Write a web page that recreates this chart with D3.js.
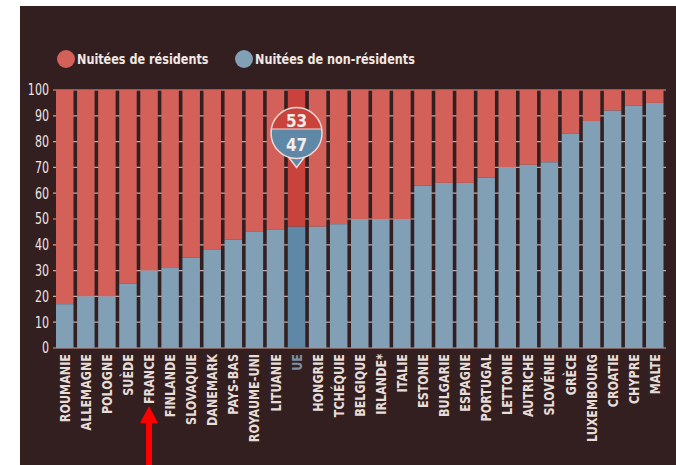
<!DOCTYPE html>
<meta charset="utf-8">
<style>
body { margin: 0; background: #fff; }
svg text { font-family: "DejaVu Sans", sans-serif; }
</style>
<svg width="676" height="465"></svg>
<script src="https://cdn.jsdelivr.net/npm/d3@7"></script>
<script>

// share of non-resident nights (%), residents = 100 - value
var countries = ["ROUMANIE", "ALLEMAGNE", "POLOGNE", "SUÈDE", "FRANCE", "FINLANDE", "SLOVAQUIE",
  "DANEMARK", "PAYS-BAS", "ROYAUME-UNI", "LITUANIE", "UE", "HONGRIE", "TCHÉQUIE", "BELGIQUE",
  "IRLANDE*", "ITALIE", "ESTONIE", "BULGARIE", "ESPAGNE", "PORTUGAL", "LETTONIE", "AUTRICHE",
  "SLOVÉNIE", "GRÈCE", "LUXEMBOURG", "CROATIE", "CHYPRE", "MALTE"];
var nonResidents = [17, 20, 20, 25, 30, 31, 35, 38, 42, 45, 46, 47, 47, 48, 50,
  50, 50, 63, 64, 64, 66, 70, 71, 72, 83, 88, 92, 94, 95];
var yTicks = [0, 10, 20, 30, 40, 50, 60, 70, 80, 90, 100];
var legendLabels = ["Nuitées de résidents", "Nuitées de non-résidents"];
var highlight = "UE";

var svg = d3.select("svg");

var red = "#d3615a", blue = "#819fb5",
    redHi = "#c9423b", blueHi = "#5f88a6",
    outline = "#eed9d6";

svg.append("rect")
    .attr("x", 20).attr("y", 6)
    .attr("width", 656).attr("height", 459)
    .attr("fill", "#331f20");

var x = d3.scaleBand()
    .domain(countries)
    .range([56, 663.5])
    .paddingInner(0.17)
    .paddingOuter(0);

var y = d3.scaleLinear().domain([0, 100]).range([348, 90]);

// grid lines (only show in the gaps between bars)
svg.append("g")
  .selectAll("line")
  .data(yTicks)
  .enter().append("line")
    .attr("x1", 53).attr("x2", 666)
    .attr("y1", function(d) { return y(d); })
    .attr("y2", function(d) { return y(d); })
    .attr("stroke", "#c9a5a3")
    .attr("stroke-width", 1.2);

var data = countries.map(function(c, i) { return { name: c, v: nonResidents[i] }; });

var bars = svg.append("g").selectAll("g")
  .data(data)
  .enter().append("g");

bars.append("rect")
    .attr("x", function(d) { return x(d.name); })
    .attr("width", x.bandwidth())
    .attr("y", y(100))
    .attr("height", function(d) { return y(d.v) - y(100); })
    .attr("fill", function(d) { return d.name == highlight ? redHi : red; });

bars.append("rect")
    .attr("x", function(d) { return x(d.name); })
    .attr("width", x.bandwidth())
    .attr("y", function(d) { return y(d.v); })
    .attr("height", function(d) { return y(0) - y(d.v); })
    .attr("fill", function(d) { return d.name == highlight ? blueHi : blue; });

// y axis labels (squeezed to look like a condensed face)
svg.append("g")
  .selectAll("text")
  .data(yTicks)
  .enter().append("text")
    .attr("transform", function(d) { return "translate(49," + y(d) + ") scale(0.74,1)"; })
    .attr("dy", "0.36em")
    .attr("text-anchor", "end")
    .attr("fill", "#eee4e0")
    .attr("font-size", 15)
    .text(function(d) { return d; });

// country labels
svg.append("g")
  .selectAll("text")
  .data(countries)
  .enter().append("text")
    .attr("transform", function(d) {
      return "translate(" + (x(d) + x.bandwidth() / 2) + ",354) rotate(-90) scale(0.8,1)";
    })
    .attr("dy", "0.36em")
    .attr("text-anchor", "end")
    .attr("font-size", 14)
    .attr("font-weight", "bold")
    .attr("fill", function(d) { return d == highlight ? "#7d8ea3" : "#e6dcd8"; })
    .text(function(d) { return d; });

// legend
var legend = svg.append("g").selectAll("g")
  .data(legendLabels)
  .enter().append("g")
    .attr("transform", function(d, i) { return "translate(" + [66, 244][i] + ",59)"; });

legend.append("circle")
    .attr("r", 9)
    .attr("fill", function(d, i) { return i == 0 ? red : blue; });

legend.append("text")
    .attr("transform", "translate(11,0) scale(0.775,1)")
    .attr("dy", "0.36em")
    .attr("font-size", 14.5)
    .attr("font-weight", "bold")
    .attr("fill", "#f0e8e4")
    .text(function(d) { return d; });

// bubble for the EU value
var ue = data.filter(function(d) { return d.name == highlight; })[0];
var bx = x(highlight) + x.bandwidth() / 2, by = 133, br = 25.5, split = by - 4;
var bubble = svg.append("g");

svg.append("defs").append("clipPath")
    .attr("id", "bubble-clip")
  .append("circle")
    .attr("cx", bx).attr("cy", by).attr("r", br);

bubble.append("path")
    .attr("d", "M" + (bx - 10) + "," + (by + br - 4) + " L" + bx + "," + (by + br + 9) +
      " L" + (bx + 10) + "," + (by + br - 4) + "Z")
    .attr("fill", blueHi)
    .attr("stroke", outline)
    .attr("stroke-width", 1.5);

bubble.append("circle")
    .attr("cx", bx).attr("cy", by).attr("r", br)
    .attr("fill", blueHi);
bubble.append("rect")
    .attr("x", bx - br).attr("y", by - br)
    .attr("width", br * 2).attr("height", split - (by - br))
    .attr("fill", redHi)
    .attr("clip-path", "url(#bubble-clip)");
bubble.append("circle")
    .attr("cx", bx).attr("cy", by).attr("r", br)
    .attr("fill", "none")
    .attr("stroke", outline)
    .attr("stroke-width", 1.5);
bubble.append("line")
    .attr("x1", bx - br + 1).attr("x2", bx + br - 1)
    .attr("y1", split).attr("y2", split)
    .attr("stroke", outline)
    .attr("stroke-width", 1)
    .attr("clip-path", "url(#bubble-clip)");

bubble.append("text")
    .attr("transform", "translate(" + bx + "," + (by - 12) + ") scale(0.85,1)")
    .attr("dy", "0.36em")
    .attr("text-anchor", "middle")
    .attr("font-size", 18).attr("font-weight", "bold")
    .attr("fill", "#f4ecea")
    .text(100 - ue.v);
bubble.append("text")
    .attr("transform", "translate(" + bx + "," + (by + 12) + ") scale(0.85,1)")
    .attr("dy", "0.36em")
    .attr("text-anchor", "middle")
    .attr("font-size", 18).attr("font-weight", "bold")
    .attr("fill", "#f4ecea")
    .text(ue.v);

// red arrow under FRANCE
var ax = x("FRANCE") + x.bandwidth() / 2;
svg.append("path")
    .attr("d", "M" + ax + ",406 L" + (ax + 9) + ",423 L" + (ax + 3) + ",423 L" + (ax + 3) + ",465" +
      " L" + (ax - 3) + ",465 L" + (ax - 3) + ",423 L" + (ax - 9) + ",423Z")
    .attr("fill", "#ff0000");

</script>
